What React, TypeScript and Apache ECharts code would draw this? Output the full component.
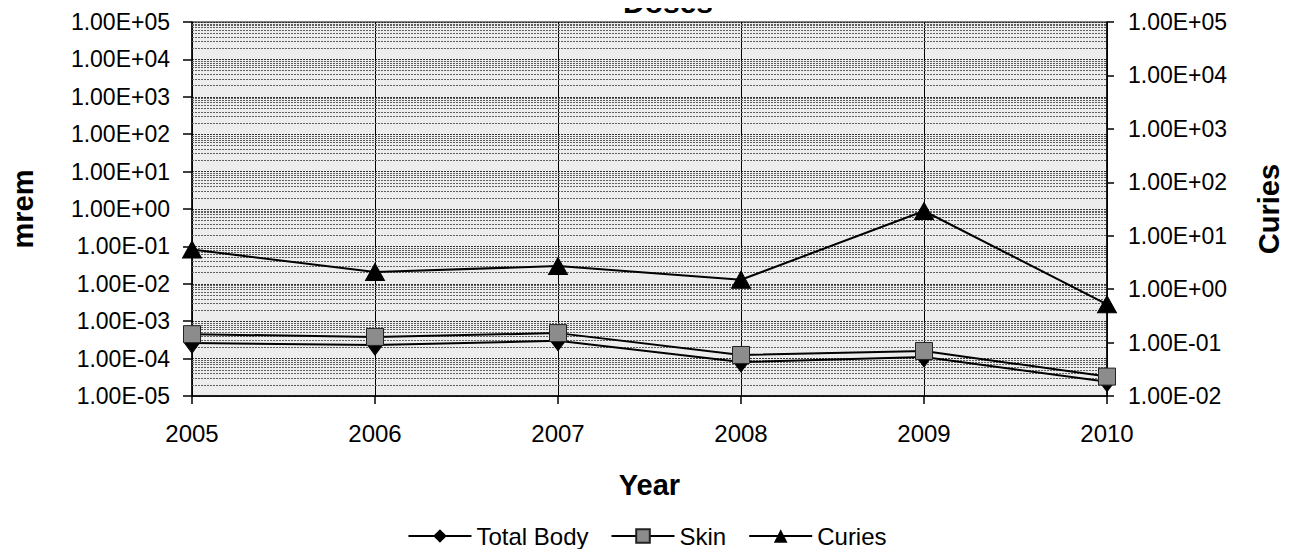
import React, { useEffect, useRef } from "react";
import * as echarts from "echarts";

const years = ["2005", "2006", "2007", "2008", "2009", "2010"];
const totalBody = [2.6e-4, 2.3e-4, 3.0e-4, 8.1e-5, 1.1e-4, 2.4e-5];
const skin = [4.5e-4, 3.8e-4, 4.8e-4, 1.25e-4, 1.6e-4, 3.3e-5];
const curies = [5.5, 2.1, 2.7, 1.5, 29, 0.52];

const leftMinExp = -5;
const leftMaxExp = 5;
const rightMinExp = -2;
const rightMaxExp = 5;
const minorFactors = [2, 3, 4, 5, 6, 7, 8, 9];

const FONT = "'Liberation Sans', Arial, sans-serif";

function fmtSci(v: number): string {
  const e = Math.round(Math.log10(v));
  const m = v / Math.pow(10, e);
  return m.toFixed(2) + "E" + (e < 0 ? "-" : "+") + String(Math.abs(e)).padStart(2, "0");
}

// positions (in decades) of the log-scale minor gridlines of the left axis
function minorGridExponents(): number[] {
  const out: number[] = [];
  for (let e = leftMinExp; e < leftMaxExp; e++) {
    for (const k of minorFactors) out.push(e + Math.log10(k));
  }
  return out;
}

export default function App() {
  const ref = useRef<HTMLDivElement>(null);
  useEffect(() => {
    if (!ref.current) return;
    const chart = echarts.init(ref.current, undefined, { renderer: "svg" });
    const lineStyle = { color: "#000", width: 2 };
    chart.setOption({
      animation: false,
      backgroundColor: "#fff",
      textStyle: { fontFamily: FONT, color: "#000" },
      title: {
        text: "Doses",
        left: 618,
        top: -18,
        textStyle: { fontFamily: FONT, fontSize: 30, fontWeight: "bold", color: "#000" },
      },
      grid: {
        left: 181,
        right: 187,
        top: 22,
        bottom: 161,
        show: true,
        backgroundColor: "#ededed",
        borderColor: "#000",
        borderWidth: 1,
      },
      legend: {
        top: 519,
        left: "center",
        itemWidth: 63,
        itemHeight: 17,
        itemGap: 22,
        data: ["Total Body", "Skin", "Curies"],
        textStyle: { fontFamily: FONT, fontSize: 24, color: "#000" },
      },
      xAxis: {
        type: "category",
        data: years,
        boundaryGap: false,
        name: "Year",
        nameLocation: "middle",
        nameGap: 74,
        nameTextStyle: { fontFamily: FONT, fontSize: 29, fontWeight: "bold", color: "#000" },
        axisLine: { onZero: false, lineStyle: { color: "#000", width: 1.5 } },
        axisTick: { show: true, length: 8, alignWithLabel: true, lineStyle: { color: "#000", width: 1.5 } },
        axisLabel: { fontFamily: FONT, fontSize: 24, color: "#000", margin: 25 },
        splitLine: { show: true, lineStyle: { color: "#000", width: 1 } },
      },
      yAxis: [
        {
          type: "log",
          logBase: 10,
          min: Math.pow(10, leftMinExp),
          max: Math.pow(10, leftMaxExp),
          interval: 1,
          name: "mrem",
          nameLocation: "middle",
          nameRotate: 90,
          nameGap: 155,
          nameTextStyle: { fontFamily: FONT, fontSize: 29, fontWeight: "bold", color: "#000" },
          axisLine: { show: true, onZero: false, lineStyle: { color: "#000", width: 1.5 } },
          axisTick: { show: true, length: 9, lineStyle: { color: "#000", width: 1.5 } },
          axisLabel: { fontFamily: FONT, fontSize: 23, color: "#000", margin: 22, formatter: fmtSci },
          splitLine: { show: true, lineStyle: { color: "#333", width: 1, type: [2, 1] } },
        },
        {
          type: "log",
          logBase: 10,
          min: Math.pow(10, rightMinExp),
          max: Math.pow(10, rightMaxExp),
          interval: 1,
          position: "right",
          name: "Curies",
          nameLocation: "middle",
          nameRotate: 90,
          nameGap: 147,
          nameTextStyle: { fontFamily: FONT, fontSize: 29, fontWeight: "bold", color: "#000" },
          axisLine: { show: true, onZero: false, lineStyle: { color: "#000", width: 1.5 } },
          axisTick: { show: true, length: 7, lineStyle: { color: "#000", width: 1.5 } },
          axisLabel: { fontFamily: FONT, fontSize: 23, color: "#000", margin: 21, formatter: fmtSci },
          splitLine: { show: false },
        },
        {
          type: "value",
          min: leftMinExp,
          max: leftMaxExp,
          show: false,
          splitLine: { show: false },
        },
      ],
      series: [
        {
          name: "minorGrid",
          type: "line",
          yAxisIndex: 2,
          data: [],
          z: 1,
          silent: true,
          markLine: {
            z: 1,
            silent: true,
            symbol: ["none", "none"],
            label: { show: false },
            emphasis: { disabled: true },
            lineStyle: { color: "#5e5e5e", width: 1, type: [2, 1] },
            data: minorGridExponents().map((v) => ({ yAxis: v })),
          },
        },
        {
          name: "Total Body",
          type: "line",
          yAxisIndex: 0,
          data: totalBody,
          z: 3,
          symbol: "diamond",
          symbolSize: [15, 20],
          lineStyle,
          itemStyle: { color: "#000", borderColor: "#000" },
        },
        {
          name: "Skin",
          type: "line",
          yAxisIndex: 0,
          data: skin,
          z: 4,
          symbol: "rect",
          symbolSize: 17,
          lineStyle,
          itemStyle: { color: "#8c8c8c", borderColor: "#222", borderWidth: 1 },
        },
        {
          name: "Curies",
          type: "line",
          yAxisIndex: 1,
          data: curies,
          z: 4,
          symbol: "triangle",
          symbolSize: [19, 17],
          lineStyle,
          itemStyle: { color: "#000", borderColor: "#000" },
        },
      ],
    });
    return () => chart.dispose();
  }, []);
  return <div ref={ref} style={{ width: 1294, height: 557, margin: -8 }} />;
}
